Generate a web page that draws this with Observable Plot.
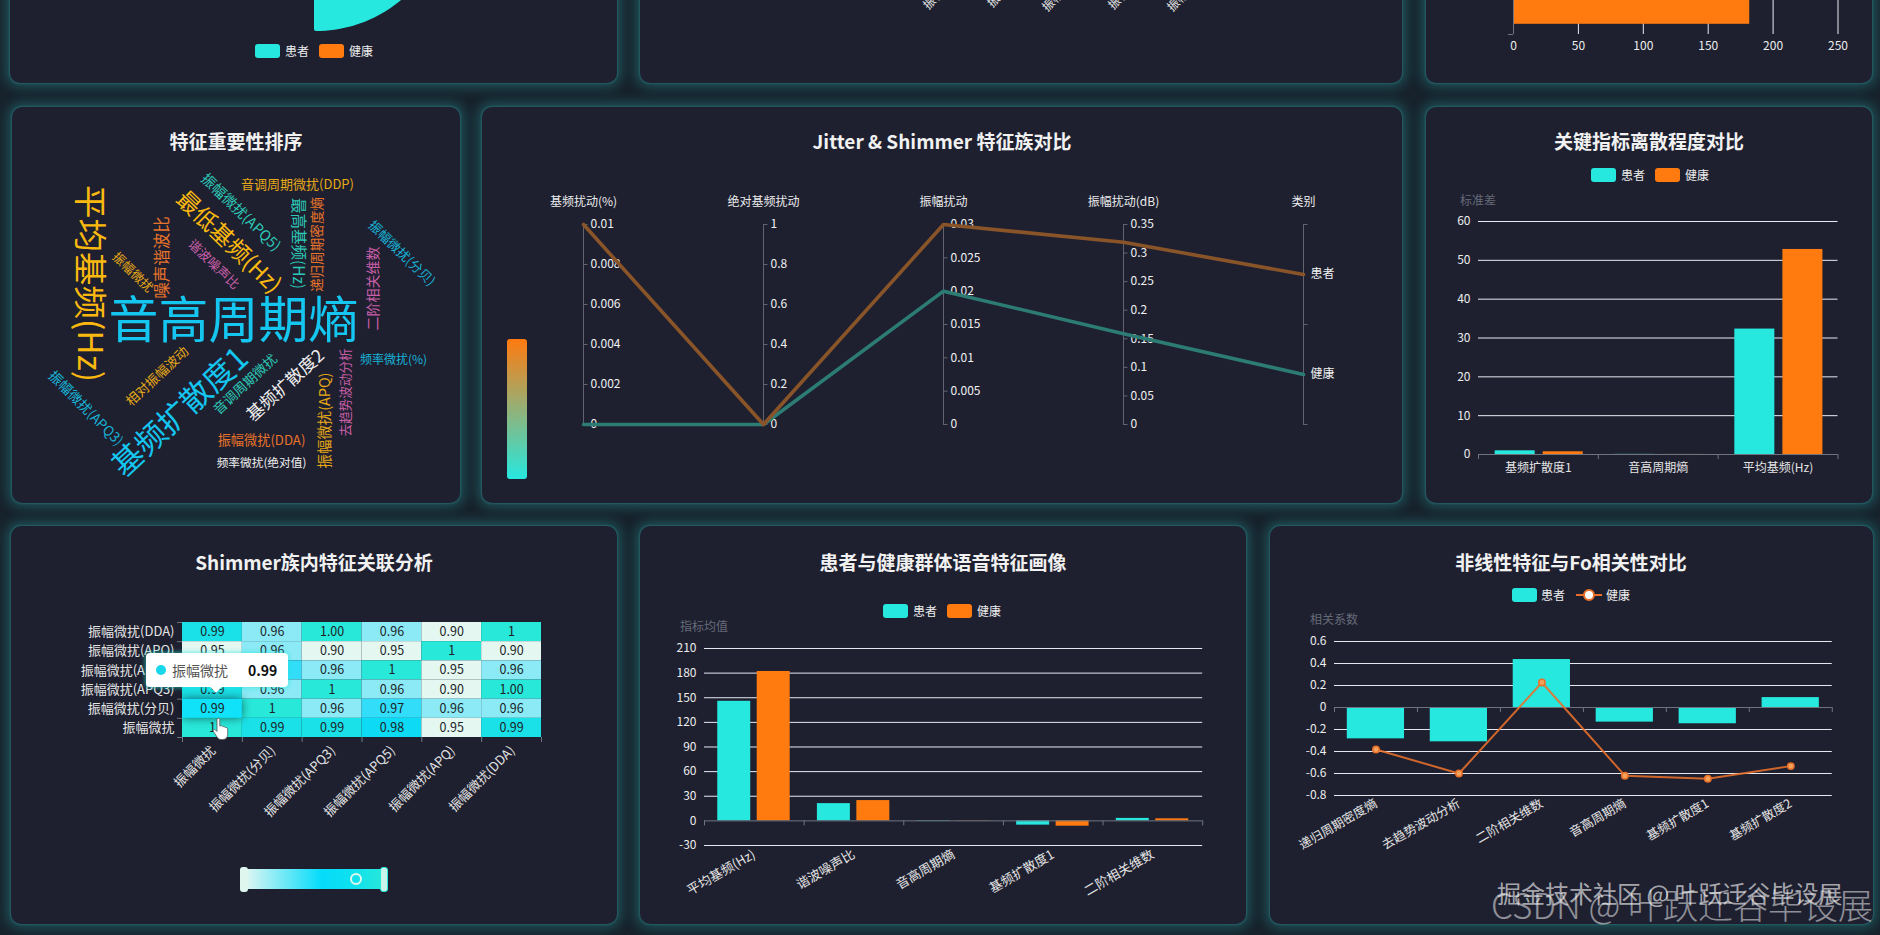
<!DOCTYPE html>
<html lang="zh">
<head>
<meta charset="utf-8">
<title>语音特征看板</title>
<script src="https://cdn.jsdelivr.net/npm/d3@7"></script>
<script src="https://cdn.jsdelivr.net/npm/@observablehq/plot@0.6"></script>
<style>
  html,body{margin:0;padding:0;background:#17222c;}
  #root{position:relative;width:1880px;height:935px;overflow:hidden;background:#17222c;font-family:"Noto Sans CJK SC","Noto Sans",sans-serif;}
  .panel{position:absolute;background:#1e2030;border-radius:10px;box-shadow:0 0 2px 1px rgba(42,120,125,.55),0 0 12px 5px rgba(42,150,150,.38);}
  .t{position:absolute;white-space:nowrap;line-height:1;}
  .title{font-size:19px;font-weight:700;color:#f1f1f1;transform:translate(-50%,-50%);}
  .lab{font-size:12px;color:#ececec;transform:translateY(-50%);}
  .yname{font-size:12px;color:#666b78;transform:translateY(-50%);}
  svg{display:block;}
</style>
</head>
<body>
<div id="root"></div>
<script>
const CYAN = "#27e8df", ORANGE = "#ff7a0f", FONT = '"Noto Sans CJK SC","Noto Sans",sans-serif';

// ---- group shares (rose chart, top row) ----
const roseGroups = ["患者", "健康"];
const roseCounts = [147, 48];

// ---- cropped bar chart, top row ----
const topBarValues = [147, 182];
const topBarTicks = [0, 50, 100, 150, 200, 250];

// ---- cropped axis labels, top-middle chart ----
const croppedLabels = ["振幅微扰", "振幅微扰(分贝)", "振幅微扰(APQ3)", "振幅微扰(APQ5)", "振幅微扰(DDA)"];
const croppedX = [925, 989, 1044, 1110, 1169];
const croppedY = [7, 5, 9, 7, 9];

// ---- word cloud: word, weight (font px) and its place/angle in the cloud ----
const cloudWords = ["音高周期熵","平均基频(Hz)","基频扩散度1","最低基频(Hz)","基频扩散度2","噪声谐波比","最高基频(Hz)","振幅微扰(APQ5)","振幅微扰(APQ)","二阶相关维数","递归周期密度熵","振幅微扰(APQ3)","音调周期微扰","相对振幅波动","谐波噪声比","音调周期微扰(DDP)","振幅微扰(分贝)","振幅微扰(DDA)","振幅微扰","去趋势波动分析","频率微扰(%)","频率微扰(绝对值)"];
const cloudSize  = [50,33.5,31,23,17.5,16.5,15.5,14.4,14.4,14,13.6,13.7,13.5,13.3,13,13,13,13.2,12.7,12.6,12,11.7];
const cloudX     = [193,48,140,188,245,122,257,200,285,333,277,45,205,117,173,257,361,221,92,305,353,221];
const cloudY     = [161,123,252,82,225,97,83,52,260,128,84,248,224,216,104,24,93,280,112,232,200,303];
const cloudAngle = [0,90,-43,44,-42,-90,90,44,-90,-90,-90,45,-43,-43,44,0,44,0,44,-90,0,0];
const cloudColor = ["#14c6f0","#fbb90f","#14c6f0","#fbb90f","#eeeeee","#e8732a","#2dc9b6","#2dc9b6","#e6a817","#c95fa8","#e8732a","#18b4d8","#2dc9b6","#e6a817","#c95fa8","#e6a817","#18b4d8","#e8732a","#e6a817","#c95fa8","#18b4d8","#eeeeee"];

// ---- parallel coordinates ----
const parAxes = ["基频扰动(%)", "绝对基频扰动", "振幅扰动", "振幅扰动(dB)", "类别"];
const parMax = [0.01, 1, 0.03, 0.35, 1];
const parTicks = [
  [0, 0.002, 0.004, 0.006, 0.008, 0.01],
  [0, 0.2, 0.4, 0.6, 0.8, 1],
  [0, 0.005, 0.01, 0.015, 0.02, 0.025, 0.03],
  [0, 0.05, 0.1, 0.15, 0.2, 0.25, 0.3, 0.35],
  [0, 0.5, 1]
];
const parCats = ["健康", "患者"];
const parPatient = [0.01, 0, 0.03, 0.319, 0.75];
const parHealthy = [0, 0, 0.02, 0.159, 0.25];

// ---- dispersion bars ----
const dispCats = ["基频扩散度1", "音高周期熵", "平均基频(Hz)"];
const dispPatient = [0.95, 0.03, 32.3];
const dispHealthy = [0.7, 0.02, 52.8];
const dispTicks = [0, 10, 20, 30, 40, 50, 60];

// ---- shimmer heatmap ----
const heatRows = ["振幅微扰(DDA)", "振幅微扰(APQ)", "振幅微扰(APQ5)", "振幅微扰(APQ3)", "振幅微扰(分贝)", "振幅微扰"];
const heatCols = ["振幅微扰", "振幅微扰(分贝)", "振幅微扰(APQ3)", "振幅微扰(APQ5)", "振幅微扰(APQ)", "振幅微扰(DDA)"];
const heatLabels = [
  ["0.99","0.96","1.00","0.96","0.90","1"],
  ["0.95","0.96","0.90","0.95","1","0.90"],
  ["0.98","0.97","0.96","1","0.95","0.96"],
  ["0.99","0.96","1","0.96","0.90","1.00"],
  ["0.99","1","0.96","0.97","0.96","0.96"],
  ["1","0.99","0.99","0.98","0.95","0.99"]
];

// ---- group profile bars ----
const profCats = ["平均基频(Hz)", "谐波噪声比", "音高周期熵", "基频扩散度1", "二阶相关维数"];
const profPatient = [145.7, 21, 0.4, -5.2, 3];
const profHealthy = [182, 24.7, 0.3, -6.5, 2.5];
const profTicks = [-30, 0, 30, 60, 90, 120, 150, 180, 210];

// ---- nonlinear correlation ----
const corrCats = ["递归周期密度熵", "去趋势波动分析", "二阶相关维数", "音高周期熵", "基频扩散度1", "基频扩散度2"];
const corrPatient = [-0.285, -0.312, 0.436, -0.133, -0.148, 0.09];
const corrHealthy = [-0.382, -0.6, 0.227, -0.62, -0.648, -0.533];
const corrTicks = [-0.8, -0.6, -0.4, -0.2, 0, 0.2, 0.4, 0.6];

// ---- helpers -------------------------------------------------------------
const root = document.getElementById("root");
function panel(x1, y1, x2, y2) {
  const d = document.createElement("div");
  d.className = "panel";
  d.style.cssText = `left:${x1}px;top:${y1}px;width:${x2 - x1}px;height:${y2 - y1}px`;
  root.append(d);
}
function txt(cls, x, y, s, extra) {
  const d = document.createElement("div");
  d.className = "t " + cls;
  d.textContent = s;
  d.style.left = x + "px";
  d.style.top = y + "px";
  if (extra) d.style.cssText += extra;
  root.append(d);
  return d;
}
function box(x, y, w, h, css) {
  const d = document.createElement("div");
  d.style.cssText = `position:absolute;left:${x}px;top:${y}px;width:${w}px;height:${h}px;` + (css || "");
  root.append(d);
  return d;
}
function legend(y, sw1, t1, sw2, t2) {
  box(sw1, y - 7, 25, 14, `background:${CYAN};border-radius:3px`);
  txt("lab", t1, y, "患者");
  if (sw2 != null) {
    box(sw2, y - 7, 25, 14, `background:${ORANGE};border-radius:3px`);
    txt("lab", t2, y, "健康");
  }
}
// mount a Plot chart so that its frame lands on the given page rectangle
function mount(f, pad, opts) {
  const w = f.x2 - f.x1 + pad.l + pad.r, h = f.y2 - f.y1 + pad.t + pad.b;
  const svg = Plot.plot({
    width: w, height: h,
    marginLeft: pad.l, marginRight: pad.r, marginTop: pad.t, marginBottom: pad.b,
    style: {background: "transparent", fontFamily: FONT, fontSize: "12px", color: "#ececec", overflow: "visible"},
    ...opts
  });
  const d = box(f.x1 - pad.l, f.y1 - pad.t, w, h);
  d.append(svg);
}
// echarts-like grouped band chart
function bandChart({frame, pad, cats, ticks, series, slots, rotate, labelDy, labelSize, pxPerUnit, extra}) {
  const n = cats.length, yMin = d3.min(ticks), yMax = d3.max(ticks);
  const bars = series.flatMap((s, k) => s.values.map((v, i) => ({
    a: i + slots[k][0], b: i + slots[k][0] + slots[k][1], v, fill: s.fill
  })));
  mount(frame, pad, {
    x: {domain: [0, n], axis: null},
    y: {domain: [yMin, yMax], axis: null},
    marks: [
      Plot.ruleY(ticks.filter(d => d !== 0), {stroke: "#e8ebf2", strokeWidth: 1}),
      Plot.rect(bars, {x1: "a", x2: "b", y1: () => 0, y2: "v", fill: "fill"}),
      Plot.ruleY([0], {stroke: "#70747f", strokeWidth: 1}),
      Plot.ruleX(d3.range(n + 1), {y1: 0, y2: -5 / pxPerUnit, stroke: "#70747f", strokeWidth: 1}),
      Plot.axisY({ticks, tickSize: 0, tickPadding: 8, tickFormat: d => String(d), fontSize: 12, color: "#ececec", anchor: "left", label: null}),
      Plot.text(cats, {
        x: (d, i) => i + 0.5, y: () => yMin, text: d => d,
        rotate, textAnchor: rotate ? "end" : "middle", dy: labelDy, fill: "#e4e4e4", fontSize: labelSize || 12
      }),
      ...(extra || [])
    ]
  });
}

// ---- panels --------------------------------------------------------------
[[10,-30,617,83],[640,-30,1402,83],[1426,-30,1872,83],
 [12,107,460,503],[482,107,1402,503],[1426,107,1872,503],
 [11,526,617,924],[640,526,1246,924],[1270,526,1873,924]].forEach(p => panel(...p));

// ---- top row: rose ----
const roseAngles = d3.range(0, 181, 2);
const roseMax = d3.max(roseCounts);
const roseFan = roseGroups.flatMap((g, k) => roseAngles.map(a => {
  const t = (a + (k ? 180 : 0)) * Math.PI / 180, r = roseCounts[k] / roseMax;
  return {g, x: Math.sin(t) * r, y: Math.cos(t) * r};
}));
mount({x1: 186, x2: 446, y1: -231, y2: 29}, {l: 0, r: 0, t: 0, b: 0}, {
  x: {domain: [-1, 1], axis: null},
  y: {domain: [-1, 1], axis: null},
  marks: [
    Plot.area(roseFan, {x1: () => 0, y1: () => 0, x2: "x", y2: "y", z: "g",
      fill: d => d.g === "患者" ? CYAN : ORANGE, stroke: d => d.g === "患者" ? CYAN : ORANGE, strokeWidth: 4, strokeLinejoin: "round"})
  ]
});
legend(51, 255, 285, 319, 349);

// ---- top row: cropped labels of the middle chart ----
mount({x1: 640, x2: 1402, y1: 0, y2: 83}, {l: 0, r: 0, t: 0, b: 0}, {
  x: {type: "identity", axis: null}, y: {type: "identity", axis: null},
  marks: [Plot.text(croppedLabels, {
    x: (d, i) => croppedX[i] - 640, y: (d, i) => croppedY[i], text: d => d,
    rotate: -45, textAnchor: "start", fill: "#e4e4e4", fontSize: 12, clip: "frame"
  })]
});

// ---- top row: horizontal bars ----
mount({x1: 1513, x2: 1837.5, y1: -86, y2: 34}, {l: 10, r: 20, t: 0, b: 30}, {
  x: {domain: [0, 250], axis: null},
  y: {domain: [2, 0], axis: null},
  marks: [
    Plot.ruleX(topBarTicks.filter(d => d > 0), {stroke: "#e8ebf2", strokeWidth: 1}),
    Plot.rect(topBarValues, {x1: () => 0, x2: d => d, y1: (d, i) => i + 0.17, y2: (d, i) => i + 0.83, fill: (d, i) => i ? ORANGE : CYAN}),
    Plot.ruleX([0], {stroke: "#70747f"}),
    Plot.ruleY([0.0, 1.0, 2.0], {x1: 0, x2: -5 * 250 / 324.5, stroke: "#70747f"}),
    Plot.axisX({ticks: topBarTicks, tickSize: 0, tickPadding: 7, anchor: "bottom", fontSize: 12, color: "#ececec", tickFormat: d => String(d), label: null})
  ]
});

// ---- word cloud ----
txt("title", 236, 139.5, "特征重要性排序");
mount({x1: 40, x2: 460, y1: 160, y2: 480}, {l: 0, r: 0, t: 0, b: 0}, {
  x: {domain: [0, 420], axis: null},
  y: {domain: [320, 0], axis: null},
  color: {type: "identity"},
  marks: [Plot.text(cloudWords, {
    x: (d, i) => cloudX[i], y: (d, i) => cloudY[i], text: d => d,
    rotate: (d, i) => cloudAngle[i], fontSize: (d, i) => cloudSize[i], fill: (d, i) => cloudColor[i]
  })]
});

// ---- parallel coordinates ----
txt("title", 942, 139.5, "Jitter & Shimmer 特征族对比");
const parTickRows = parTicks.flatMap((ts, a) => ts.map(v => ({a, n: v / parMax[a], v})));
const parLabelRows = parTickRows.filter(d => d.a < 4).map(d => ({...d, s: String(d.v)}))
  .concat(parCats.map((c, i) => ({a: 4, n: i ? 0.75 : 0.25, s: c})));
const toRow = (vals, name) => vals.map((v, a) => ({a, n: v / parMax[a], name}));
mount({x1: 582.5, x2: 1302.5, y1: 223.5, y2: 423.5}, {l: 40, r: 50, t: 36, b: 10}, {
  x: {domain: [0, 4], axis: null},
  y: {domain: [0, 1], axis: null},
  marks: [
    Plot.ruleX(d3.range(5), {stroke: "#62656f", strokeWidth: 1}),
    Plot.ruleY(parTickRows, {y: "n", x1: "a", x2: d => d.a + 4.5 / 180, stroke: "#62656f", strokeWidth: 1}),
    Plot.text(parLabelRows, {x: "a", y: "n", text: "s", dx: 7, textAnchor: "start", fill: "#f0f0f0", fontSize: 12}),
    Plot.line(toRow(parHealthy, "健康"), {x: "a", y: "n", stroke: "#2c7c74", strokeWidth: 3.6}),
    Plot.line(toRow(parPatient, "患者"), {x: "a", y: "n", stroke: "#8a5429", strokeWidth: 3.6}),
    Plot.text(parAxes, {x: (d, i) => i, y: () => 1, text: d => d, dy: -22, fill: "#ececec", fontSize: 12})
  ]
});
box(507, 339, 20, 140, `border-radius:3px;background:linear-gradient(180deg,${ORANGE},${CYAN})`);

// ---- dispersion bars ----
txt("title", 1649, 139.5, "关键指标离散程度对比");
legend(175, 1590.5, 1621, 1654.5, 1685);
txt("yname", 1460, 200, "标准差");
bandChart({
  frame: {x1: 1478, x2: 1837.5, y1: 221.3, y2: 454.3}, pad: {l: 30, r: 20, t: 10, b: 40},
  cats: dispCats, ticks: dispTicks,
  series: [{values: dispPatient, fill: CYAN}, {values: dispHealthy, fill: ORANGE}],
  slots: [[0.139, 0.334], [0.54, 0.334]], rotate: 0, labelDy: 14, pxPerUnit: 3.883
});

// ---- shimmer heatmap ----
txt("title", 314, 560.5, "Shimmer族内特征关联分析");
const heatCells = heatLabels.flatMap((row, r) => row.map((s, c) => ({r, c, s, v: Number(s)})));
const hovered = heatCells.filter(d => d.r === 4 && d.c === 0);
mount({x1: 182, x2: 541, y1: 622, y2: 737}, {l: 120, r: 10, t: 5, b: 80}, {
  x: {domain: [0, 6], axis: null},
  y: {domain: [6, 0], axis: null},
  color: {type: "linear", domain: [0.95, 0.975, 1], range: ["#e4f7f1", "#06d6fb", "#28e8da"], clamp: true},
  marks: [
    Plot.rect(heatCells, {x1: "c", x2: d => d.c + 1, y1: "r", y2: d => d.r + 1, fill: "v"}),
    Plot.rect(hovered, {x1: "c", x2: d => d.c + 1, y1: "r", y2: d => d.r + 1, fill: () => "#10e2fa",
      render(i, s, v, d, c, next) { const g = next(i, s, v, d, c); g.style.filter = "drop-shadow(0 0 5px rgba(0,0,0,.55))"; return g; }}),
    Plot.text(heatCells, {x: d => d.c + 0.5, y: d => d.r + 0.5, text: "s", fill: "#1d1f27", fontSize: 12.5}),
    Plot.ruleX(d3.range(7), {y1: 6, y2: 6 + 5 * 6 / 115, stroke: "#70747f"}),
    Plot.ruleY(d3.range(7), {x1: 0, x2: -5 * 6 / 359, stroke: "#70747f"}),
    Plot.text(heatRows, {x: () => 0, y: (d, i) => i + 0.5, text: d => d, dx: -8, textAnchor: "end", fill: "#e4e4e4", fontSize: 13}),
    Plot.text(heatCols, {x: (d, i) => i + 0.5, y: () => 6, text: d => d, rotate: -45, textAnchor: "end", dy: 11, dx: 1, fill: "#e4e4e4", fontSize: 13})
  ]
});
// tooltip
box(146, 653, 142, 34, "background:#fff;border-radius:4px;box-shadow:0 0 4px 1px rgba(39,232,223,.6)");
box(212, 683, 8, 8, "background:#fff;transform:rotate(45deg)");
box(156, 665, 10, 10, "background:#16d8ea;border-radius:50%");
txt("", 172, 670, "振幅微扰", "font-size:14px;color:#555;transform:translateY(-50%)");
txt("", 248, 670, "0.99", "font-size:14px;font-weight:700;color:#111;transform:translateY(-50%)");
// hand cursor
box(212, 717, 18, 24).innerHTML = '<svg width="18" height="24" viewBox="0 0 18 24"><path d="M5 2c1-1.400 2.600-1 2.800.4V9l1-.2.4-.1c1-.2 1.500.4 1.700 1l.5-.1c1-.2 1.600.4 1.800 1l.5-.1c1.300-.1 2 .8 2 2v5c0 3-2 5-5 5H9c-2 0-3-1-4-2.500L1.500 14.500c-.8-1.300.7-2.700 2-1.500L5 14.500z" fill="#fff" stroke="#555" stroke-width=".8"/></svg>';
// gradient range
box(244, 869, 140, 20, "background:linear-gradient(90deg,#e4f7f1 0%,#7feaf6 25%,#06dcfb 55%,#0ce0f0 75%,#28e8da 100%)");
box(240, 867, 8, 25, "background:#dff6ef;border-radius:3px");
box(380, 867, 8, 25, "background:#c9f4ec;border:1px solid #28e8da;box-sizing:border-box;border-radius:3px");
box(350, 873, 12, 12, "box-sizing:border-box;border:2px solid #dff6ef;border-radius:50%");

// ---- group profile ----
txt("title", 943, 560.5, "患者与健康群体语音特征画像");
legend(611, 883, 913, 947, 977);
txt("yname", 680, 625.5, "指标均值");
bandChart({
  frame: {x1: 704.3, x2: 1202.5, y1: 648.3, y2: 845.3}, pad: {l: 30, r: 20, t: 10, b: 60},
  cats: profCats, ticks: profTicks,
  series: [{values: profPatient, fill: CYAN}, {values: profHealthy, fill: ORANGE}],
  slots: [[0.133, 0.331], [0.529, 0.331]], rotate: -30, labelDy: 8, labelSize: 13, pxPerUnit: 0.822
});

// ---- nonlinear correlation ----
txt("title", 1571, 560.5, "非线性特征与Fo相关性对比");
legend(595, 1512, 1541);
box(1576, 594, 26, 2, "background:#e8702a");
box(1583, 589, 12, 12, "box-sizing:border-box;background:#fff;border:2.500px solid #e8702a;border-radius:50%");
txt("lab", 1606, 595, "健康");
txt("yname", 1310, 619, "相关系数");
const corrLine = corrHealthy.map((v, i) => ({x: i + 0.5, v}));
bandChart({
  frame: {x1: 1333.6, x2: 1831.4, y1: 641.3, y2: 795.3}, pad: {l: 30, r: 20, t: 10, b: 60},
  cats: corrCats, ticks: corrTicks,
  series: [{values: corrPatient, fill: CYAN}],
  slots: [[0.154, 0.69]], rotate: -30, labelDy: 7, labelSize: 12.5, pxPerUnit: 110,
  extra: [
    Plot.line(corrLine, {x: "x", y: "v", stroke: "#e8702a", strokeWidth: 2, strokeOpacity: 0.88}),
    Plot.dot(corrLine, {x: "x", y: "v", r: 3.2, fill: "#f4a25a", stroke: "#e8702a", strokeWidth: 1.5})
  ]
});

// ---- watermark ----
txt("", 1491, 903, "CSDN @ 叶跃迁谷毕设展", "font-size:35px;color:rgba(255,255,255,.5);transform:translateY(-50%);font-weight:300");
txt("", 1497, 893, "掘金技术社区 @ 叶跃迁谷毕设展", "font-size:24px;color:rgba(255,255,255,.62);transform:translateY(-50%)");
</script>
</body>
</html>
